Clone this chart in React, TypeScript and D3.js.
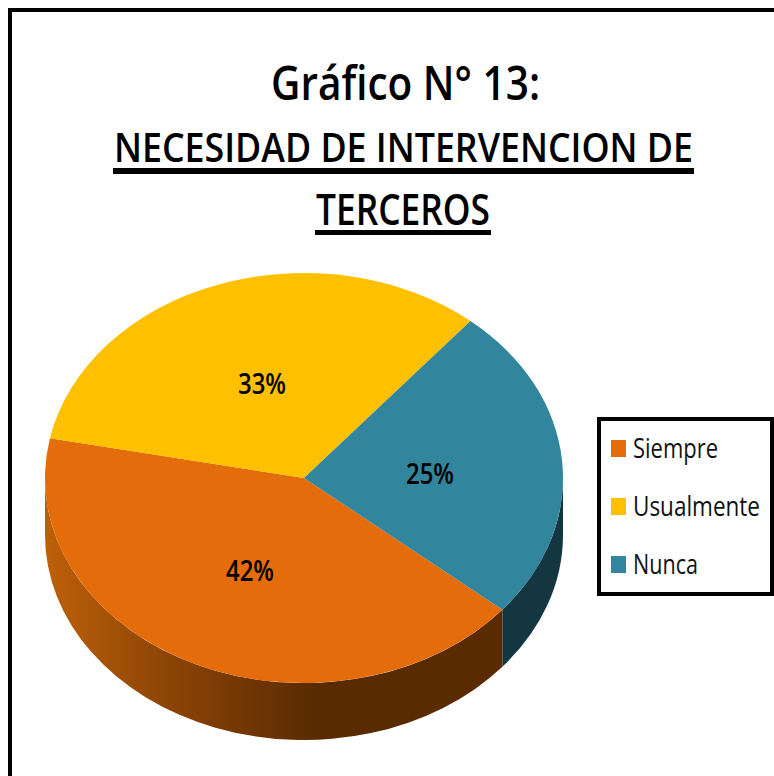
import React from "react";
import * as d3 from "d3";

const categories = ["Siempre", "Usualmente", "Nunca"];
const values = [42, 33, 25];
const percentLabels = ["42%", "33%", "25%"];
const topColors = ["#E46C0A", "#FFC000", "#31859C"];
const titleLine = "Gráfico N° 13:";
const subtitleLines = ["NECESIDAD DE INTERVENCION DE", "TERCEROS"];

const W = 774, H = 776;
const cx = 304, cy = 478, rx = 259, ry = 205, depth = 57;
const startDeg = 130;
const font = "'Open Sans', sans-serif";
const rad = (d: number) => (d * Math.PI) / 180;
const pt = (a: number, dy = 0) => [cx + rx * Math.sin(a), cy - ry * Math.cos(a) + dy];

const pieGen = d3.pie<number>().sort(null).startAngle(rad(startDeg)).endAngle(rad(startDeg + 360));
const arcs = pieGen(values);
const arcGen = d3.arc<d3.PieArcDatum<number>>().innerRadius(0).outerRadius(rx);

function sidePath(a0: number, a1: number, turn: number) {
  const s = Math.max(a0 - turn, rad(90)), e = Math.min(a1 - turn, rad(270));
  if (e <= s) return "";
  const [x0, y0] = pt(s), [x1, y1] = pt(e);
  const [x2, y2] = pt(e, depth), [x3, y3] = pt(s, depth);
  return `M${x0},${y0}A${rx},${ry} 0 0 1 ${x1},${y1}L${x2},${y2}A${rx},${ry} 0 0 0 ${x3},${y3}Z`;
}

const labelPos: [number, number][] = [[250, 581], [262, 394], [430, 484]];
const legendY = d3.scalePoint<string>().domain(categories).range([448.5, 564.5]);
const legendWidths = [85, 127, 65];

function Fit(p: { x: number; y: number; w: number; sx: number; size: number; weight?: number; fill?: string; children: string }) {
  return (
    <text
      transform={`translate(${p.x},${p.y}) scale(${p.sx},1)`}
      fontFamily={font}
      fontWeight={p.weight ?? 400}
      fontSize={p.size}
      textLength={p.w / p.sx}
      lengthAdjust="spacingAndGlyphs"
      fill={p.fill ?? "#000"}
    >
      {p.children}
    </text>
  );
}

export default function App() {
  return (
    <svg width={W} height={H} style={{ position: "absolute", left: 0, top: 0, background: "#fff" }}>
      <defs>
        <linearGradient id="orangeSide" gradientUnits="userSpaceOnUse" x1={cx - rx} x2={cx + rx} y1={0} y2={0}>
          <stop offset="0" stopColor="#BE6008" />
          <stop offset="0.25" stopColor="#8A4306" />
          <stop offset="0.52" stopColor="#5A2B01" />
          <stop offset="1" stopColor="#5A2B01" />
        </linearGradient>
      </defs>

      <path d={`M10,${H}V10H${W}`} fill="none" stroke="#000" strokeWidth={4} />

      <Fit x={271} y={100} w={269} sx={0.82} size={47} weight={600}>{titleLine}</Fit>
      <Fit x={114} y={162} w={579} sx={0.86} size={39} weight={600}>{subtitleLines[0]}</Fit>
      <rect x={113} y={168} width={581} height={6} fill="#000" />
      <Fit x={316} y={225} w={174} sx={0.86} size={43} weight={600}>{subtitleLines[1]}</Fit>
      <rect x={315} y={230} width={176} height={5} fill="#000" />

      {arcs.map((a, i) => (
        <g key={i}>
          {[0, 2 * Math.PI].map((turn) => {
            const d = sidePath(a.startAngle, a.endAngle, turn);
            return d ? <path key={turn} d={d} fill={i === 0 ? "url(#orangeSide)" : "#143641"} /> : null;
          })}
        </g>
      ))}
      <g transform={`translate(${cx},${cy}) scale(1,${ry / rx})`}>
        {arcs.map((a, i) => (
          <path key={i} d={arcGen(a) ?? ""} fill={topColors[i]} />
        ))}
      </g>

      {percentLabels.map((t, i) => (
        <Fit key={t} x={labelPos[i][0] - 24} y={labelPos[i][1]} w={48} sx={0.72} size={29} weight={600}>{t}</Fit>
      ))}

      <rect x={599} y={419} width={173} height={175} fill="#fff" stroke="#000" strokeWidth={4} />
      {categories.map((c, i) => {
        const y = legendY(c) as number;
        return (
          <g key={c}>
            <rect x={611} y={y - 8.5} width={15} height={17} fill={topColors[i]} />
            <Fit x={633} y={y + 9} w={legendWidths[i]} sx={0.8} size={27} fill="#111">{c}</Fit>
          </g>
        );
      })}
    </svg>
  );
}
